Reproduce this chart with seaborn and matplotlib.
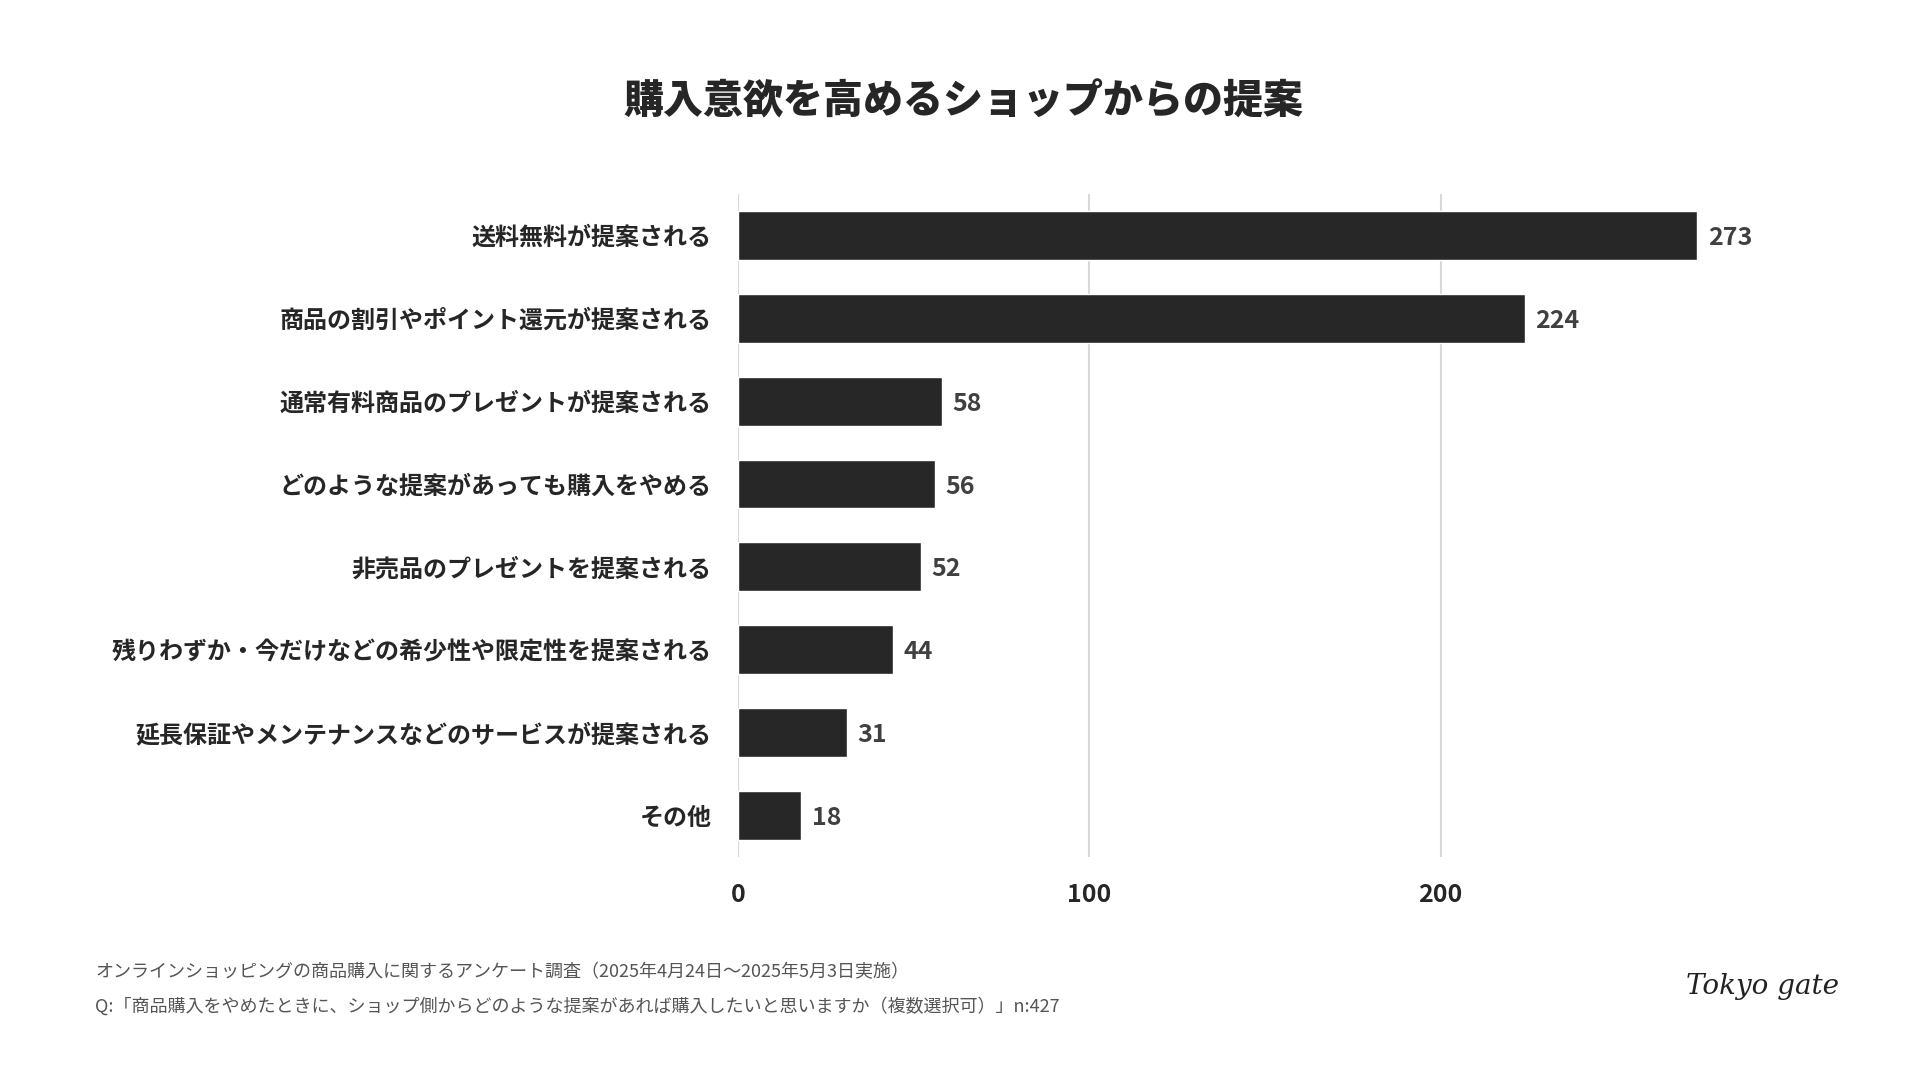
import matplotlib
matplotlib.use("Agg")
import matplotlib.pyplot as plt
import seaborn as sns
import pandas as pd

categories = [
    "送料無料が提案される",
    "商品の割引やポイント還元が提案される",
    "通常有料商品のプレゼントが提案される",
    "どのような提案があっても購入をやめる",
    "非売品のプレゼントを提案される",
    "残りわずか・今だけなどの希少性や限定性を提案される",
    "延長保証やメンテナンスなどのサービスが提案される",
    "その他",
]
values = [273, 224, 58, 56, 52, 44, 31, 18]
x_ticks = [0, 100, 200]

title = "購入意欲を高めるショップからの提案"
footer1 = "オンラインショッピングの商品購入に関するアンケート調査（2025年4月24日〜2025年5月3日実施）"
footer2 = "Q:「商品購入をやめたときに、ショップ側からどのような提案があれば購入したいと思いますか（複数選択可）」n:427"

sns.set_theme(style="white")
plt.rcParams['font.family'] = ['Noto Sans CJK JP', 'DejaVu Sans']

df = pd.DataFrame({"cat": categories, "val": values})

fig = plt.figure(figsize=(19.2, 10.8), dpi=100)
ax = fig.add_axes([0.3845, 0.2065, 0.5305, 0.6139])

sns.barplot(data=df, y="cat", x="val", color="#272727", saturation=1,
            width=0.59, ax=ax, orient="h")

ax.set_xlim(0, 290)
ax.set_ylim(7.5, -0.5)
ax.set_xticks(x_ticks)
ax.set_xticklabels([str(t) for t in x_ticks], fontsize=18, fontweight="bold", color="#262626")
ax.tick_params(axis="x", length=0, pad=19)
ax.tick_params(axis="y", length=0, pad=19)
for lbl in ax.get_yticklabels():
    lbl.set_fontsize(17.3)
    lbl.set_fontweight("bold")
    lbl.set_color("#262626")
ax.set_xlabel("")
ax.set_ylabel("")
ax.grid(axis="x", color="#d9d9d9", linewidth=1.5)
ax.set_axisbelow(True)
for s in ax.spines.values():
    s.set_visible(False)

for i, v in enumerate(values):
    ax.text(v + 3, i, str(v), va="center_baseline", ha="left", fontsize=18,
            fontweight="bold", color="#404040")

fig.text(0.502, 0.906, title, ha="center", va="center", fontsize=28.8,
         fontweight="heavy", color="#262626")

fig.text(0.0495, 0.1, footer1, ha="left", va="center", fontsize=13, color="#555555")
fig.text(0.0495, 0.068, footer2, ha="left", va="center", fontsize=13, color="#555555")

fig.text(0.958, 0.087, "Tokyo gate", ha="right", va="center", fontsize=20,
         fontstyle="italic", fontweight="light", color="#222222",
         family=["DejaVu Serif"])

fig.savefig("out.png", dpi=100, facecolor="white")
